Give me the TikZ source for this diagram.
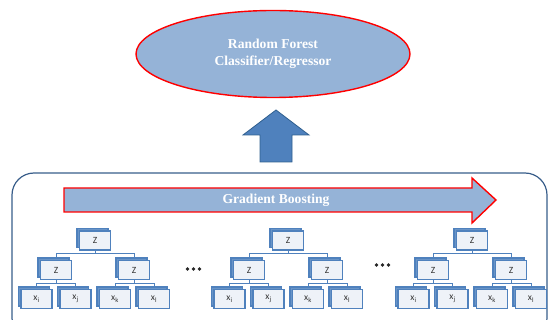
\documentclass[tikz,border=0pt]{standalone}
\usepackage{fontspec}
\setmainfont{Liberation Serif}
\newfontfamily\boxfont{Carlito}
\usetikzlibrary{shapes.geometric,shadows}
\definecolor{lightblue}{HTML}{95B3D7}
\definecolor{midblue}{HTML}{4F81BD}
\definecolor{darkblue}{HTML}{2F5F8F}
\definecolor{framecol}{HTML}{385D8A}
\definecolor{boxfill}{HTML}{EEF2F8}
\tikzset{
  treebox/.style={rectangle, minimum width=31pt, minimum height=19pt, inner sep=0pt,
    fill=boxfill, draw=midblue, line width=1.3pt,
    copy shadow={shadow xshift=-2.5pt, shadow yshift=2.5pt, fill=midblue!85, draw=midblue},
    font=\boxfont\fontsize{9.5}{10}\selectfont, text=black!80},
  link/.style={draw=midblue, line width=0.9pt},
  dotmark/.style={circle, fill=black!85, inner sep=0pt, minimum size=3.8pt}
}
\begin{document}
\begin{tikzpicture}[x=1pt,y=-1pt]
\useasboundingbox (0,0) rectangle (548,320);
% top ellipse
\node[ellipse, fill=lightblue, draw=red, line width=1.4pt, minimum width=274pt, minimum height=87pt,
  text=white, font=\bfseries\fontsize{13.6}{17.5}\selectfont, align=center] (rf) at (273,54)
  {Random Forest\\Classifier/Regressor};
% up arrow
\draw[fill=midblue, draw=darkblue, line width=0.8pt]
  (260,162) -- (292,162) -- (292,135) -- (309,135) -- (276,110) -- (243,135) -- (260,135) -- cycle;
% frame
\draw[draw=framecol, line width=1.2pt, rounded corners=22pt] (12,173) rectangle (547,340);
% gradient boosting arrow
\draw[fill=lightblue, draw=red, line width=1.4pt]
  (64,188) -- (472,188) -- (472,178) -- (496,200) -- (472,223) -- (472,212) -- (64,212) -- cycle;
\node[text=white, font=\bfseries\fontsize{13.6}{16}\selectfont] (gb) at (276,200) {Gradient Boosting};
% trees
\foreach \dx/\t in {0/a,193/b,377/c}{
  \node[treebox] (\t r) at (\dx+95,240.5) {Z};
  \node[treebox] (\t L) at (\dx+56,270) {Z};
  \node[treebox] (\t R) at (\dx+134,270) {Z};
  \node[treebox] (\t 1) at (\dx+36.5,299) {x\textsubscript{i}};
  \node[treebox] (\t 2) at (\dx+75.5,299) {x\textsubscript{j}};
  \node[treebox] (\t 3) at (\dx+115,299) {x\textsubscript{k}};
  \node[treebox] (\t 4) at (\dx+154,299) {x\textsubscript{l}};
  \draw[link] (\t r.south) -- ++(0,3) -| ([yshift=2.5pt]\t L.north);
  \draw[link] (\t r.south) -- ++(0,3) -| ([yshift=2.5pt]\t R.north);
  \draw[link] (\t L.south) -- ++(0,3) -| ([yshift=2.5pt]\t 1.north);
  \draw[link] (\t L.south) -- ++(0,3) -| ([yshift=2.5pt]\t 2.north);
  \draw[link] (\t R.south) -- ++(0,3) -| ([yshift=2.5pt]\t 3.north);
  \draw[link] (\t R.south) -- ++(0,3) -| ([yshift=2.5pt]\t 4.north);
}
% ellipsis dots
\foreach \x in {187.5,193.5,199.5}{ \node[dotmark] at (\x,269) {}; }
\foreach \x in {376.5,382.5,388.5}{ \node[dotmark] at (\x,265) {}; }
\end{tikzpicture}
\end{document}
